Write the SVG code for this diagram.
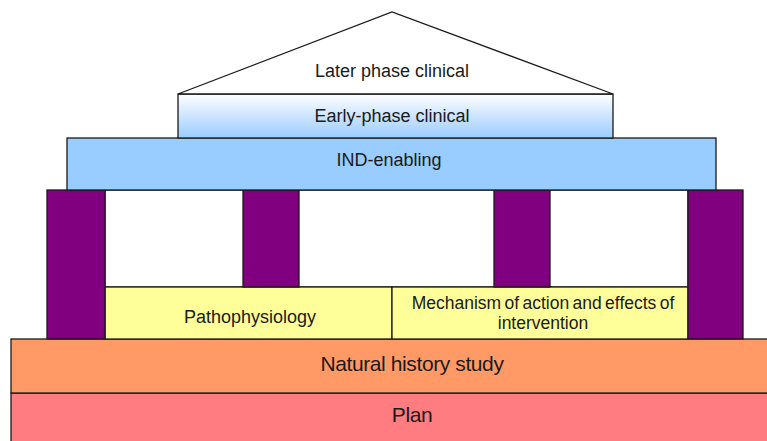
<svg xmlns="http://www.w3.org/2000/svg" width="767" height="441" viewBox="0 0 767 441">
<style>
.box{stroke:#1a1a1a;stroke-width:1.3}
.t{font-family:"Liberation Sans",Arial,sans-serif;fill:#1a1a1a;text-anchor:middle}
.m{font-size:18px}
.b{font-size:21px;letter-spacing:-0.4px}
.s{font-size:17.5px;word-spacing:-1.5px}
.pillar{fill:#800080}
</style>
<defs>
<linearGradient id="gEarly" x1="0" y1="0" x2="0" y2="1">
<stop offset="0" stop-color="#ffffff"/>
<stop offset="1" stop-color="#99ccff"/>
</linearGradient>
</defs>
<rect width="767" height="441" fill="#ffffff"/>
<g id="plan">
<rect class="box" x="11" y="393" width="770" height="52" fill="#ff7c80"/>
<text class="t b" x="412" y="422">Plan</text>
</g>
<g id="natural-history">
<rect class="box" x="11" y="339" width="770" height="54" fill="#ff9966"/>
<text class="t b" x="412" y="371">Natural history study</text>
</g>
<g id="frame">
<rect class="box" x="105" y="190" width="583" height="97" fill="#ffffff"/>
</g>
<g id="pathophysiology">
<rect class="box" x="105" y="287" width="287" height="52" fill="#ffff99"/>
<text class="t m" x="250" y="323">Pathophysiology</text>
</g>
<g id="mechanism">
<rect class="box" x="392" y="287" width="296" height="52" fill="#ffff99"/>
<text class="t s" x="543" y="309">Mechanism of action and effects of</text>
<text class="t s" x="543" y="329">intervention</text>
</g>
<g id="pillar-1"><rect class="box pillar" x="47" y="190" width="58" height="149"/></g>
<g id="pillar-2"><rect class="box pillar" x="243" y="190" width="56" height="97"/></g>
<g id="pillar-3"><rect class="box pillar" x="494" y="190" width="56" height="97"/></g>
<g id="pillar-4"><rect class="box pillar" x="688" y="190" width="55" height="149"/></g>
<g id="ind-enabling">
<rect class="box" x="67" y="138" width="649" height="52" fill="#99ccff"/>
<text class="t m" x="389" y="166">IND-enabling</text>
</g>
<g id="early-phase">
<rect class="box" x="178" y="94" width="435" height="44" fill="url(#gEarly)"/>
<text class="t m" x="392" y="122">Early-phase clinical</text>
</g>
<g id="later-phase">
<polygon class="box" points="178,94 392,12 613,94" fill="#ffffff"/>
<text class="t m" x="392" y="77">Later phase clinical</text>
</g>
</svg>
